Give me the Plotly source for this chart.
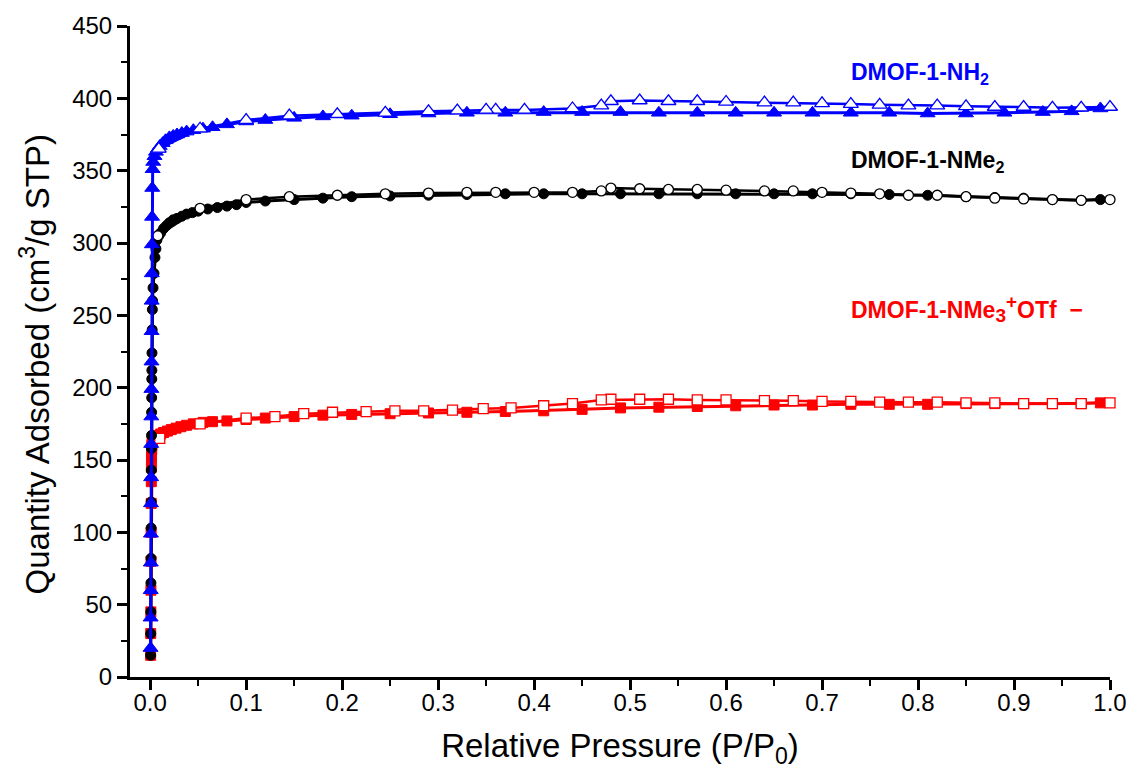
import plotly.graph_objects as go

# DMOF-1-NH2 (blue triangles)
nh2_ads_p = [0.0004, 0.0005, 0.0006, 0.0007, 0.0008, 0.0009, 0.0010, 0.0011, 0.0012, 0.0013,
             0.0014, 0.0015, 0.0016, 0.0017, 0.0018, 0.0020, 0.0022, 0.0026, 0.0032, 0.0045,
             0.006, 0.008, 0.010, 0.013, 0.016, 0.020, 0.024, 0.028, 0.033, 0.038,
             0.045, 0.055, 0.065, 0.08,
             0.10, 0.12, 0.15, 0.18, 0.21, 0.25, 0.29, 0.33, 0.37, 0.41,
             0.45, 0.49, 0.53, 0.57, 0.61, 0.65, 0.69, 0.73, 0.77, 0.81,
             0.85, 0.89, 0.93, 0.96, 0.99]
nh2_ads_q = [20, 41, 60, 79, 99, 120, 138, 161, 180, 199,
             218, 239, 260, 279, 299, 318, 338, 351, 356, 360,
             363, 365, 367, 369, 371, 373, 374, 375, 376, 377,
             378, 379, 380, 382,
             384, 385, 386.5, 387.5, 388, 389, 389.5, 390, 390, 390.5,
             390.5, 390.5, 390, 390, 390, 390, 390, 390, 390, 389.5,
             389.5, 390, 390.5, 391, 393]
nh2_des_p = [1.0, 0.97, 0.94, 0.91, 0.88, 0.85, 0.82, 0.79, 0.76, 0.73,
             0.70, 0.67, 0.64, 0.60, 0.57, 0.54, 0.51, 0.48, 0.47, 0.44,
             0.39, 0.36, 0.35, 0.32, 0.29, 0.245, 0.195, 0.145, 0.10, 0.052,
             0.009]
nh2_des_q = [394, 393.5, 393.5, 394, 394, 394.5, 395, 395, 395.5, 396,
             396.5, 397, 397, 397.5, 398, 398, 398.5, 398, 395, 393,
             392, 392, 392, 391.5, 391, 390, 389, 388, 385, 379,
             365]

# DMOF-1-NMe2 (black circles)
nme2_ads_p = [0.0005, 0.0006, 0.0007, 0.0008, 0.0009, 0.0010, 0.0011, 0.0012, 0.0013, 0.0014,
              0.0015, 0.0016, 0.0017, 0.0018, 0.0019, 0.0021, 0.0023, 0.0025, 0.0030, 0.0040,
              0.0050, 0.0060,
              0.007, 0.009, 0.011, 0.014, 0.017, 0.020, 0.024, 0.028, 0.033, 0.038,
              0.044, 0.05, 0.06, 0.07, 0.08, 0.09,
              0.10, 0.12, 0.15, 0.18, 0.21, 0.25, 0.29, 0.33, 0.37, 0.41,
              0.45, 0.49, 0.53, 0.57, 0.61, 0.65, 0.69, 0.73, 0.77, 0.81,
              0.85, 0.88, 0.91, 0.94, 0.97, 0.99]
nme2_ads_q = [15, 30, 45, 65, 82, 103, 121, 143, 158, 167,
              183, 193, 206, 212, 224, 240, 254, 260, 269, 279,
              290, 296,
              302, 305, 307, 310, 312, 314, 316, 317, 318.5, 320,
              321, 322, 323.5, 324.5, 325.5, 326.5,
              328, 329, 330, 331, 332, 332.5, 333, 333.5, 334, 334,
              334, 334, 334, 334, 334, 334, 334, 334, 333.5, 333,
              332, 331.5, 331, 330, 329.5, 330]
nme2_des_p = [1.0, 0.97, 0.94, 0.91, 0.88, 0.85, 0.82, 0.79, 0.76, 0.73,
              0.70, 0.67, 0.64, 0.60, 0.57, 0.54, 0.51, 0.48, 0.47, 0.44,
              0.40, 0.36, 0.33, 0.29, 0.245, 0.195, 0.145, 0.10, 0.052, 0.008]
nme2_des_q = [330, 329.5, 330, 330.5, 331, 332, 333, 333, 334, 334.5,
              335, 336, 336, 336.5, 337, 337, 337.5, 338, 336, 335,
              335, 335, 335, 334.5, 334, 333, 332, 330, 324, 305]

# DMOF-1-NMe3+OTf- (red squares)
nme3_ads_p = [0.0005, 0.0006, 0.0007, 0.0008, 0.0009, 0.0010, 0.0011, 0.0012, 0.0013, 0.0014,
              0.0016, 0.0018, 0.0020, 0.0025,
              0.004, 0.006, 0.008, 0.011, 0.014, 0.018, 0.022, 0.027, 0.032, 0.038,
              0.045, 0.055, 0.065, 0.08,
              0.10, 0.12, 0.15, 0.18, 0.21, 0.25, 0.29, 0.33, 0.37, 0.41,
              0.45, 0.49, 0.53, 0.57, 0.61, 0.65, 0.69, 0.73, 0.77, 0.81,
              0.85, 0.88, 0.91, 0.94, 0.97, 0.99]
nme3_ads_q = [15, 30, 45, 60, 80, 100, 120, 135, 145, 152,
              157, 160, 162, 164,
              165, 166, 167, 168, 169, 170, 171, 172, 173, 174,
              175, 176, 176.5, 177,
              178, 179, 180, 181, 181.5, 182, 182.5, 183, 183.5, 184,
              185, 186, 186.5, 187, 187.5, 188, 188, 188.5, 188.5, 188.5,
              189, 189, 189, 189, 189, 189.5]
nme3_des_p = [1.0, 0.97, 0.94, 0.91, 0.88, 0.85, 0.82, 0.79, 0.76, 0.73,
              0.70, 0.67, 0.64, 0.60, 0.57, 0.54, 0.51, 0.48, 0.47, 0.44,
              0.41, 0.376, 0.347, 0.315, 0.285, 0.255, 0.225, 0.19, 0.16, 0.13,
              0.10, 0.052, 0.01]
nme3_des_q = [189.5, 189, 189, 189, 189.5, 189.5, 190, 190, 190, 190.5,
              190.5, 191, 191, 191.5, 191.5, 192, 192, 192, 191.5, 189,
              187.5, 186, 185.5, 184.5, 184, 184, 183.5, 183, 182, 180,
              179, 175, 165]

x_ticks = [0.0, 0.1, 0.2, 0.3, 0.4, 0.5, 0.6, 0.7, 0.8, 0.9, 1.0]
x_ticklabels = ["0.0", "0.1", "0.2", "0.3", "0.4", "0.5", "0.6", "0.7", "0.8", "0.9", "1.0"]
x_minor = [0.05, 0.15, 0.25, 0.35, 0.45, 0.55, 0.65, 0.75, 0.85, 0.95]
y_ticks = [0, 50, 100, 150, 200, 250, 300, 350, 400, 450]
y_minor = [25, 75, 125, 175, 225, 275, 325, 375, 425]

BLUE = "#0000ff"
BLACK = "#000000"
RED = "#ff0000"

series = [
    (nme3_ads_p, nme3_ads_q, nme3_des_p, nme3_des_q, RED, "square", 10),
    (nme2_ads_p, nme2_ads_q, nme2_des_p, nme2_des_q, BLACK, "circle", 10),
    (nh2_ads_p, nh2_ads_q, nh2_des_p, nh2_des_q, BLUE, "triangle-up", 13),
]

fig = go.Figure()
for ap, aq, dp, dq, col, sym, sz in series:
    fig.add_trace(go.Scatter(x=ap, y=aq, mode="lines+markers",
                             line=dict(color=col, width=3),
                             marker=dict(symbol=sym, size=sz, color=col,
                                         line=dict(color=col, width=1)),
                             cliponaxis=False, showlegend=False))
    fig.add_trace(go.Scatter(x=dp, y=dq, mode="lines+markers",
                             line=dict(color=col, width=2.5),
                             marker=dict(symbol=sym, size=sz, color="white",
                                         line=dict(color=col, width=1.3)),
                             cliponaxis=False, showlegend=False))

font_family = "Liberation Sans, Arial, sans-serif"

fig.update_layout(
    width=1139, height=782,
    margin=dict(l=130, r=23, t=24, b=105),
    paper_bgcolor="white", plot_bgcolor="white",
    font=dict(family=font_family, color="black"),
    xaxis=dict(range=[-0.021, 1.0], tickvals=x_ticks, ticktext=x_ticklabels,
               showgrid=False, zeroline=False, showline=True, linecolor="black", linewidth=3,
               ticks="outside", ticklen=10, tickwidth=2.5, tickcolor="black",
               tickfont=dict(size=24), ticklabelstandoff=-8,
               minor=dict(ticks="outside", ticklen=6, tickwidth=2, tickcolor="black",
                          tickvals=x_minor),
               title=dict(text="Relative Pressure (P/P<sub>0</sub>)", font=dict(size=33), standoff=20)),
    yaxis=dict(range=[0, 450], tickvals=y_ticks,
               showgrid=False, zeroline=False, showline=True, linecolor="black", linewidth=3,
               ticks="outside", ticklen=10, tickwidth=2.5, tickcolor="black",
               tickfont=dict(size=24),
               minor=dict(ticks="outside", ticklen=6, tickwidth=2, tickcolor="black",
                          tickvals=y_minor)),
)

fig.add_annotation(x=-0.097, y=0.48, xref="paper", yref="paper", xanchor="center", yanchor="middle",
                   textangle=-90, text="Quantity Adsorbed (cm<sup>3</sup>/g STP)",
                   showarrow=False, font=dict(size=33, color="black", family=font_family))

fig.add_annotation(x=0.7277, y=417, xref="x", yref="y", xanchor="left",
                   text="<b>DMOF-1-NH<sub>2</sub></b>",
                   showarrow=False, font=dict(size=23, color=BLUE, family=font_family))
fig.add_annotation(x=0.7277, y=356, xref="x", yref="y", xanchor="left",
                   text="<b>DMOF-1-NMe<sub>2</sub></b>",
                   showarrow=False, font=dict(size=23, color=BLACK, family=font_family))
fig.add_annotation(x=0.7277, y=255, xref="x", yref="y", xanchor="left",
                   text=("<b>DMOF-1-NMe<sub><span style='font-size:19px'>3</span></sub>"
                         "<sup><span style='font-size:19px'>+</span></sup>"
                         "OTf\u00a0\u00a0\u2212</b>"),
                   showarrow=False, font=dict(size=23, color=RED, family=font_family))

fig.write_html("out.html")
